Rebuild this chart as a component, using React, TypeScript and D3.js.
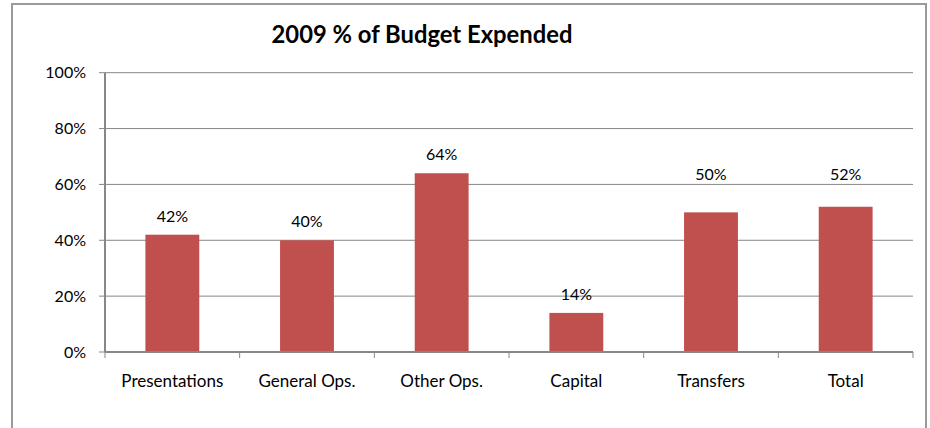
import React from "react";
import * as d3 from "d3";

const categories = ["Presentations", "General Ops.", "Other Ops.", "Capital", "Transfers", "Total"];
const values = [0.42, 0.40, 0.64, 0.14, 0.50, 0.52];
// label anchor (data units) where Excel placed the label differently from the bar top
const labelAnchors: (number | null)[] = [null, null, null, null, 0.57, 0.57];
const yTicks = [0, 0.2, 0.4, 0.6, 0.8, 1.0];
const title = "2009 % of Budget Expended";

const W = 930;
const H = 428;
const FONT = "Lato, 'Open Sans', sans-serif";

export default function App() {
  const x0 = 105, x1 = 913, yTop = 72.7, yBot = 352;
  const x = d3.scaleBand<string>().domain(categories).range([x0, x1]).padding(0);
  const y = d3.scaleLinear().domain([0, 1]).range([yBot, yTop]);
  const bw = x.bandwidth() * 0.4;
  const fmt = d3.format(".0%");
  const grid = "#878787";
  return (
    <svg width={W} height={H} style={{ position: "absolute", left: 0, top: 0, background: "#fff" }}>
      <rect x={12} y={4} width={914} height={440} fill="#fff" stroke="#9a9a9a" strokeWidth={2} />
      <text x={422} y={43} textAnchor="middle" fontFamily={FONT} fontWeight="bold" fontSize={23.8} fill="#000">
        {title}
      </text>
      {yTicks.map((t) => (
        <g key={t}>
          {t > 0 && <line x1={x0} x2={x1} y1={y(t)} y2={y(t)} stroke={grid} strokeWidth={1} />}
          <line x1={x0 - 6} x2={x0} y1={y(t)} y2={y(t)} stroke={grid} strokeWidth={1} />
          <text x={x0 - 19} y={y(t) + 5.5} textAnchor="end" fontFamily={FONT} fontSize={16} fill="#000">
            {fmt(t)}
          </text>
        </g>
      ))}
      {categories.map((c, i) => {
        const cx = (x(c) as number) + x.bandwidth() / 2;
        const la = labelAnchors[i];
        const ly = la == null ? y(values[i]) : y(la);
        return (
          <g key={c}>
            <rect x={cx - bw / 2} y={y(values[i])} width={bw} height={yBot - y(values[i])} fill="#C0504D" />
            <text x={cx} y={ly - 13} textAnchor="middle" fontFamily={FONT} fontSize={16} fill="#000">
              {fmt(values[i])}
            </text>
            <text x={cx} y={387} textAnchor="middle" fontFamily={FONT} fontSize={17} fill="#000">
              {c}
            </text>
          </g>
        );
      })}
      <line x1={x0} x2={x0} y1={yTop} y2={yBot} stroke={grid} strokeWidth={2} />
      <line x1={x0} x2={x1} y1={yBot} y2={yBot} stroke={grid} strokeWidth={2} />
      {d3.range(categories.length + 1).map((i) => {
        const tx = x0 + i * x.step();
        return <line key={i} x1={tx} x2={tx} y1={yBot} y2={yBot + 6} stroke={grid} strokeWidth={1} />;
      })}
    </svg>
  );
}
